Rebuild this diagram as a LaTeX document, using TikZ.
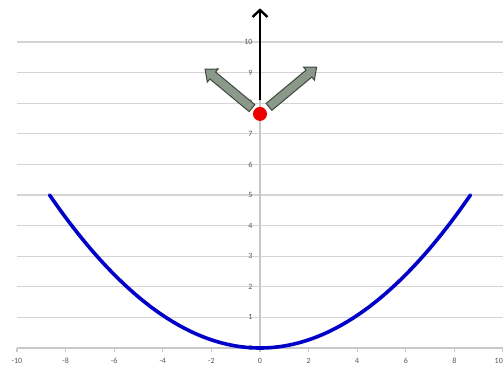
\documentclass[tikz,border=0pt]{standalone}
\usepackage{fontspec}
\setmainfont{Carlito}
\usetikzlibrary{arrows.meta}
\definecolor{gridgray}{HTML}{D4D4D4}
\definecolor{axisgray}{HTML}{C8C8C8}
\definecolor{lblgray}{HTML}{595959}
\definecolor{curveblue}{HTML}{0000C8}
\definecolor{arrfill}{HTML}{8A998A}
\definecolor{arrdraw}{HTML}{3F4A3F}
\definecolor{dotred}{HTML}{EE0000}
\begin{document}
\begin{tikzpicture}[x=1pt,y=1pt,
  gridline/.style={draw=gridgray, line width=1.1pt},
  axisline/.style={draw=axisgray, line width=1.1pt},
  lbl/.style={font=\fontsize{8}{9}\selectfont, text=lblgray, inner sep=0pt},
  curve/.style={draw=curveblue, line width=3.6pt, line cap=round, line join=round},
  blockarrow/.style={draw=arrdraw, fill=arrfill, line width=1pt, line join=miter},
  upvec/.style={draw=black, line width=2.6pt, -{Straight Barb[length=7pt,width=15pt,line width=2.4pt]}}]
\fill[white] (0,0) rectangle (503,365);
\useasboundingbox (0,0) rectangle (503,365);
\begin{scope}[shift={(260,17)}, x=24.3pt, y=30.6pt]
  \foreach \k in {1,...,10} \draw[gridline] (-10,\k) -- (10,\k);
  \draw[axisline] (0,0) -- (0,10);
  \draw[axisline] (-10,0) -- (10,0);
  \foreach \k in {-10,-8,...,8} {
    \draw[axisline] (\k,0) -- (\k,-0.13);
    \node[lbl] (xl\k) at (\k,-0.42) {\k};
  }
  \draw[axisline] (10,0) -- (10,-0.13);
  \node[lbl, anchor=east] (xl10) at (10,-0.42) {10};
  \foreach \k in {0,...,10} \node[lbl, anchor=east] (yl\k) at (-0.3,\k) {\k};
  \draw[curve] plot[domain=-8.66:8.66, samples=120] (\x, {\x*\x/15});
  % vectors
  \coordinate (vstart) at (0,8.1);
  \coordinate (vend) at (0,11.1);
  \draw[upvec] (vstart) -- (vend);
  \begin{scope}[shift={(-0.33,7.84)}, rotate=140.3, x=1pt, y=1pt]
    \draw[blockarrow] (0,-4.5) -- (51,-4.5) -- (51,-8.5) -- (61,0) -- (51,8.5) -- (51,4.5) -- (0,4.5) -- cycle;
  \end{scope}
  \begin{scope}[shift={(0.37,7.88)}, rotate=39.8, x=1pt, y=1pt]
    \draw[blockarrow] (0,-4.5) -- (52,-4.5) -- (52,-8.5) -- (62,0) -- (52,8.5) -- (52,4.5) -- (0,4.5) -- cycle;
  \end{scope}
  \node[circle, fill=dotred, minimum size=14pt, inner sep=0pt] (dot) at (0,7.65) {};
\end{scope}
\end{tikzpicture}
\end{document}
